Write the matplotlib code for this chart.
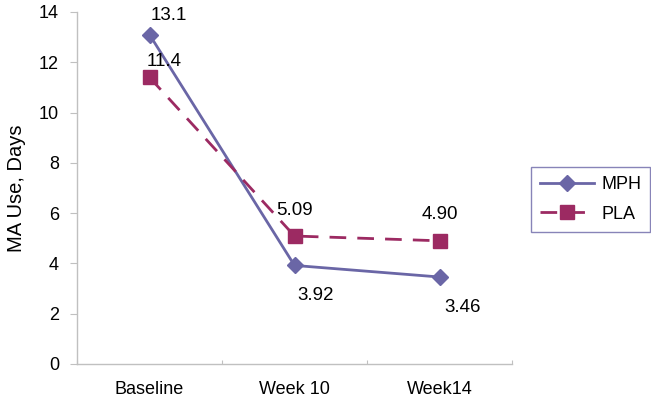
import matplotlib
matplotlib.use("Agg")
import matplotlib.pyplot as plt

categories = ["Baseline", "Week 10", "Week14"]
mph = [13.1, 3.92, 3.46]
pla = [11.4, 5.09, 4.90]
mph_labels = ["13.1", "3.92", "3.46"]
pla_labels = ["11.4", "5.09", "4.90"]
y_ticks = [0, 2, 4, 6, 8, 10, 12, 14]

plt.rcParams['font.family'] = ['Liberation Sans', 'DejaVu Sans']

fig = plt.figure(figsize=(6.51, 4.05), dpi=100)
ax = fig.add_axes([77/651, 41/405, 435/651, 352/405])

c_mph = '#6A66A6'
c_pla = '#9C2A62'
x = list(range(len(categories)))
ax.plot(x, mph, color=c_mph, lw=2, marker='D', ms=8, label='MPH', zorder=3)
ax.plot(x, pla, color=c_pla, lw=2, ls=(0, (6, 4)), marker='s', ms=10, label='PLA', zorder=3)

mph_off = [(19, 19), (21, -30), (23, -30)]
pla_off = [(15, 16), (0, 26), (0, 26)]
for xi, v, t, o in zip(x, mph, mph_labels, mph_off):
    ax.annotate(t, (xi, v), xytext=o, textcoords='offset pixels', ha='center', va='center', fontsize=13.5)
for xi, v, t, o in zip(x, pla, pla_labels, pla_off):
    ax.annotate(t, (xi, v), xytext=o, textcoords='offset pixels', ha='center', va='center', fontsize=13.5)

ax.set_xlim(-0.5, 2.5)
ax.set_ylim(0, 14)
ax.set_yticks(y_ticks)
ax.set_xticks([-0.5, 0.5, 1.5, 2.5], minor=False)
ax.set_xticklabels([])
ax.set_xticks(x, minor=True)
ax.set_xticklabels(categories, minor=True, fontsize=13)
ax.tick_params(axis='x', which='minor', length=0, pad=12)
ax.tick_params(axis='x', which='major', length=3, color='#c0c0c0', direction='in')
ax.tick_params(axis='y', length=5, color='#c0c0c0', labelsize=13, pad=8)
ax.set_ylabel('MA Use, Days', fontsize=14.5, labelpad=9)
for s in ['top', 'right']:
    ax.spines[s].set_visible(False)
for s in ['left', 'bottom']:
    ax.spines[s].set_color('#c0c0c0')
    ax.spines[s].set_linewidth(1)

leg = fig.legend(loc='upper left', bbox_to_anchor=(531/651, 1 - 167/405), bbox_transform=fig.transFigure,
                 frameon=True, fancybox=False, fontsize=13, handlelength=3.0, borderpad=0.5,
                 labelspacing=0.7, handletextpad=0.4, borderaxespad=0)
leg.get_frame().set_edgecolor('#6A66A6')
leg.get_frame().set_linewidth(1)

fig.savefig('out.png', dpi=100)
